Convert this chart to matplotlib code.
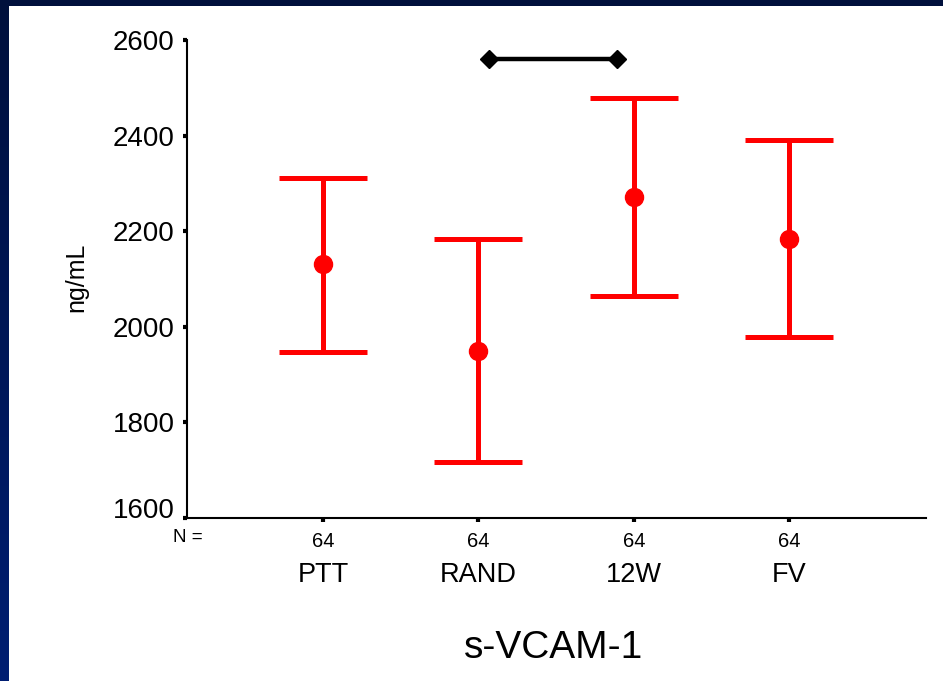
import matplotlib
matplotlib.use("Agg")
import matplotlib.pyplot as plt
import numpy as np
from matplotlib.patches import Rectangle
from matplotlib.transforms import blended_transform_factory, ScaledTranslation
from matplotlib.colors import LinearSegmentedColormap

plt.rcParams['font.family'] = ['Liberation Sans', 'DejaVu Sans']

# Data
categories = ["PTT", "RAND", "12W", "FV"]
n_labels = ["64", "64", "64", "64"]
means = [2131, 1949, 2272, 2184]
upper = [2311, 2184, 2479, 2391]
lower = [1947, 1717, 2064, 1979]
sig_x = [2.07, 2.89]
sig_y = [2560, 2560]
y_ticks = [1600, 1800, 2000, 2200, 2400, 2600]

W, H = 943, 681
fig = plt.figure(figsize=(W / 100, H / 100), dpi=100)

# Dark blue border gradient background
bg = fig.add_axes([0, 0, 1, 1], zorder=-10)
grad = np.linspace(0, 1, 256).reshape(-1, 1)
cmap = LinearSegmentedColormap.from_list("bg", ["#00103c", "#001e72"])
bg.imshow(grad, aspect="auto", cmap=cmap, extent=[0, 1, 0, 1], origin="upper")
bg.add_patch(Rectangle((9 / W, 0), 1 - 9 / W, (H - 6) / H, facecolor="white",
                       edgecolor="none"))
bg.set_xlim(0, 1)
bg.set_ylim(0, 1)
bg.axis("off")

ax = fig.add_axes([187 / W, (H - 518) / H, (926 - 187) / W, (518 - 40) / H])
ax.set_facecolor("none")
x = np.arange(1, len(categories) + 1)
yerr = [np.array(means) - np.array(lower), np.array(upper) - np.array(means)]
ax.errorbar(x, means, yerr=yerr, fmt="o", color="#ff0000", ecolor="#ff0000",
            elinewidth=3.6, capsize=32, capthick=3.6, markersize=13,
            clip_on=False, zorder=3)
ax.plot(sig_x, sig_y, color="black", linewidth=3.2, marker="D", markersize=9,
        clip_on=False, zorder=3)

ax.set_xlim(0.124, 4.88)
ax.set_ylim(1600, 2600)
for s in ["top", "right"]:
    ax.spines[s].set_visible(False)
for s in ["left", "bottom"]:
    ax.spines[s].set_linewidth(1.5)

ax.set_yticks(y_ticks)
ax.set_yticklabels([str(v) for v in y_ticks], fontsize=20)
ax.tick_params(axis="y", direction="out", length=3, width=3, pad=6)
# lowest label sits slightly above its tick
lbl0 = ax.get_yticklabels()[0]
lbl0.set_transform(lbl0.get_transform() + ScaledTranslation(0, 10 / 100, fig.dpi_scale_trans))

ax.set_xticks(x)
ax.set_xticklabels(n_labels, fontsize=14.5)
ax.tick_params(axis="x", direction="out", length=3, width=3, pad=7)

tr = blended_transform_factory(ax.transData, fig.transFigure)
for xi, c in zip(x, categories):
    ax.text(xi, (H - 575) / H, c, transform=tr, ha="center", va="center",
            fontsize=19.5)
fig.text(188 / W, (H - 538) / H, "N =", ha="center", va="center", fontsize=13.5)
fig.text(76 / W, (H - 277) / H, "ng/mL", rotation=90, ha="center",
         va="center", fontsize=18)
fig.text(554 / W, (H - 648) / H, "s-VCAM-1", ha="center", va="center",
         fontsize=28)

fig.savefig("out.png", dpi=100)
